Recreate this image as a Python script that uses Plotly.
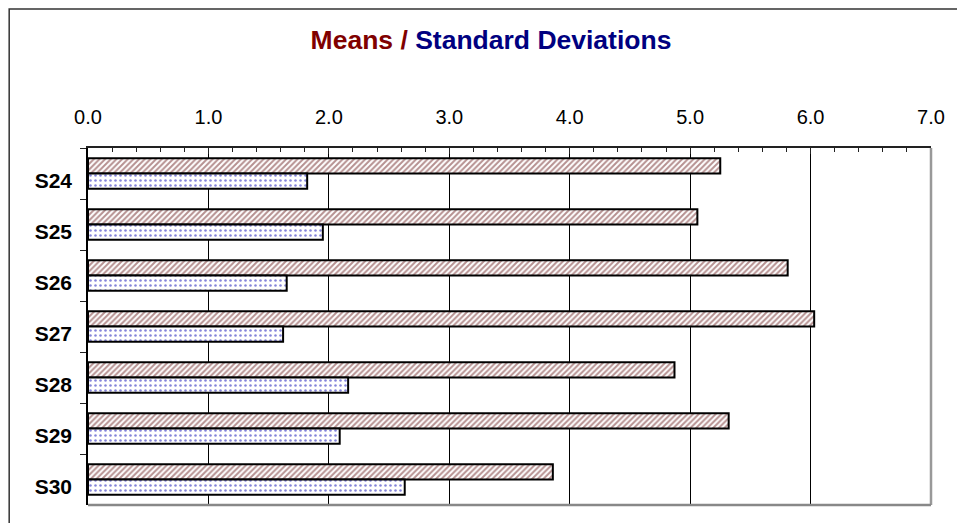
import plotly.graph_objects as go

# Series per sample
samples = ["S24", "S25", "S26", "S27", "S28", "S29", "S30"]
means = [5.25, 5.06, 5.81, 6.03, 4.87, 5.32, 3.86]
std_devs = [1.82, 1.95, 1.65, 1.62, 2.16, 2.09, 2.63]
x_ticks = [0, 1, 2, 3, 4, 5, 6, 7]
x_tick_labels = ["0.0", "1.0", "2.0", "3.0", "4.0", "5.0", "6.0", "7.0"]

FONT = "Arial, Liberation Sans, sans-serif"

fig = go.Figure()
fig.add_trace(go.Bar(
    y=samples, x=means, orientation="h", name="Means",
    marker=dict(
        color="white",
        line=dict(color="black", width=2),
        pattern=dict(shape="/", fgcolor="#6e2424", bgcolor="white",
                     size=4, solidity=0.5, fillmode="overlay"),
    ),
))
fig.add_trace(go.Bar(
    y=samples, x=std_devs, orientation="h", name="Standard Deviations",
    marker=dict(
        color="white",
        line=dict(color="black", width=2),
        pattern=dict(shape=".", fgcolor="#0c0cb4", bgcolor="white",
                     size=5, solidity=0.2, fillmode="overlay"),
    ),
))

fig.update_layout(
    width=957, height=523,
    margin=dict(l=88, r=24, t=148, b=18),
    paper_bgcolor="white", plot_bgcolor="white",
    barmode="group", bargap=0.40, bargroupgap=0,
    showlegend=False,
    font=dict(family=FONT, color="black"),
    title=dict(
        text="<b><span style='color:#800000'>Means / </span>"
             "<span style='color:#000080'>Standard Deviations</span></b>",
        font=dict(family=FONT, size=26.5),
        xref="container", yref="container",
        x=491 / 957, y=1 - 40 / 523, xanchor="center", yanchor="middle",
    ),
    xaxis=dict(
        side="top", range=[0, 7],
        tickvals=x_ticks, ticktext=x_tick_labels,
        tickfont=dict(family=FONT, size=20, color="black"),
        ticks="inside", ticklen=6, tickcolor="#222", tickwidth=1,
        ticklabelstandoff=14,
        minor=dict(dtick=0.2, ticks="inside", ticklen=4, tickcolor="#222",
                   showgrid=False),
        showgrid=True, gridcolor="black", gridwidth=1,
        showline=True, linecolor="#222", linewidth=2,
        zeroline=False, fixedrange=True,
    ),
    yaxis=dict(
        autorange="reversed", type="category",
        tickfont=dict(family=FONT, size=21, color="black", weight="bold"),
        ticks="outside", ticklen=6, tickcolor="#222", tickwidth=1,
        tickson="boundaries", ticklabelstandoff=10, ticklabelshift=-7,
        showgrid=False, showline=True, linecolor="black", linewidth=1.5,
        zeroline=False, fixedrange=True,
    ),
    shapes=[
        # chart frame
        dict(type="rect", xref="paper", yref="paper",
             x0=(9 - 88) / 845, x1=1.2, y0=-0.3, y1=1 + (148 - 9) / 357,
             line=dict(color="#333", width=1.5), layer="below"),
        # right and bottom border of the plot area
        dict(type="line", xref="paper", yref="paper", x0=1, x1=1, y0=0, y1=1,
             line=dict(color="#999", width=2.5)),
        dict(type="line", xref="paper", yref="paper", x0=0, x1=1, y0=0, y1=0,
             line=dict(color="#888", width=2.5)),
    ],
)

fig.write_html("out.html")
